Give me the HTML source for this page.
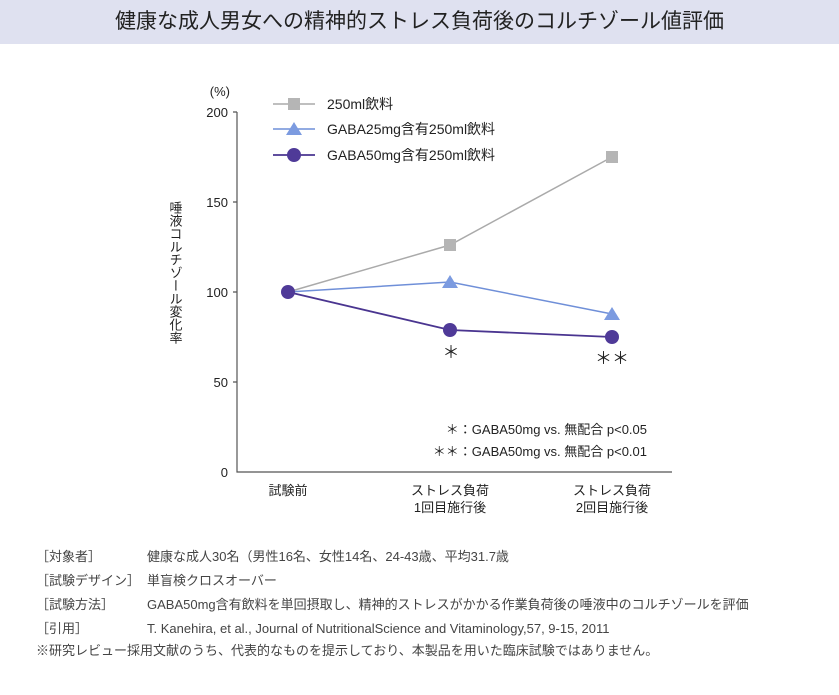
<!DOCTYPE html>
<html><head><meta charset="utf-8"><style>
body{margin:0;width:839px;height:695px;background:#fff;font-family:"Liberation Sans","Noto Sans CJK JP",sans-serif;overflow:hidden;position:relative}
.title{position:absolute;left:0;top:0;width:839px;height:44px;background:#dfe1f0;text-align:center;line-height:44px;font-size:21px;color:#222}
.f{position:absolute;font-size:13px;color:#444;white-space:nowrap;line-height:18px}
</style></head><body>
<div class="title">健康な成人男女への精神的ストレス負荷後のコルチゾール値評価</div>
<svg width="839" height="695" style="position:absolute;left:0;top:0" font-family="Liberation Sans, Noto Sans CJK JP, sans-serif">
<g stroke="#555" stroke-width="1.2" fill="none">
<path d="M237 112 V472 H672"/>
<path d="M233 112H237M233 202H237M233 292H237M233 382H237"/>
</g>
<g font-size="13" fill="#222" text-anchor="end">
<text x="228" y="117">200</text><text x="228" y="207">150</text><text x="228" y="297">100</text><text x="228" y="387">50</text><text x="228" y="477">0</text>
<text x="230" y="96">(%)</text>
</g>
<text font-size="13" fill="#222" style="writing-mode:vertical-rl" x="175" y="201">唾液コルチゾール変化率</text>
<g font-size="13" fill="#222" text-anchor="middle">
<text x="288" y="495">試験前</text>
<text x="450" y="495">ストレス負荷</text><text x="450" y="512">1回目施行後</text>
<text x="612" y="495">ストレス負荷</text><text x="612" y="512">2回目施行後</text>
</g>
<polyline points="288,292 450,245 612,157" fill="none" stroke="#aaa" stroke-width="1.5"/>
<polyline points="288,292 450,282 612,314" fill="none" stroke="#6f8fd8" stroke-width="1.5"/>
<polyline points="288,292 450,330 612,337" fill="none" stroke="#4a3590" stroke-width="1.8"/>
<g fill="#b5b5b5"><rect x="444" y="239" width="12" height="12"/><rect x="606" y="151" width="12" height="12"/></g>
<g fill="#7c9be0"><path d="M450 275 L458 288 L442 288Z"/><path d="M612 307 L620 320 L604 320Z"/></g>
<g fill="#4f3a98"><circle cx="288" cy="292" r="7"/><circle cx="450" cy="330" r="7"/><circle cx="612" cy="337" r="7"/></g>
<text x="451" y="358" font-size="17" text-anchor="middle" fill="#222">＊</text>
<text x="612" y="364" font-size="17" text-anchor="middle" fill="#222">＊＊</text>
<line x1="273" y1="104" x2="315" y2="104" stroke="#aaa" stroke-width="1.5"/><rect x="288" y="98" width="12" height="12" fill="#b5b5b5"/>
<line x1="273" y1="129" x2="315" y2="129" stroke="#6f8fd8" stroke-width="1.5"/><path d="M294 122 L302 135 L286 135Z" fill="#7c9be0"/>
<line x1="273" y1="155" x2="315" y2="155" stroke="#4a3590" stroke-width="1.8"/><circle cx="294" cy="155" r="7" fill="#4f3a98"/>
<g font-size="14" fill="#222"><text x="327" y="109">250ml飲料</text><text x="327" y="134">GABA25mg含有250ml飲料</text><text x="327" y="160">GABA50mg含有250ml飲料</text></g>
<g font-size="13" fill="#222" text-anchor="end"><text x="647" y="434">＊：GABA50mg vs. 無配合 p&lt;0.05</text><text x="647" y="456">＊＊：GABA50mg vs. 無配合 p&lt;0.01</text></g>
</svg>
<div class="f" style="left:36px;top:548px">［対象者］</div><div class="f" style="left:147px;top:548px">健康な成人30名（男性16名、女性14名、24-43歳、平均31.7歳</div>
<div class="f" style="left:36px;top:572px">［試験デザイン］</div><div class="f" style="left:147px;top:572px">単盲検クロスオーバー</div>
<div class="f" style="left:36px;top:596px">［試験方法］</div><div class="f" style="left:147px;top:596px">GABA50mg含有飲料を単回摂取し、精神的ストレスがかかる作業負荷後の唾液中のコルチゾールを評価</div>
<div class="f" style="left:36px;top:620px">［引用］</div><div class="f" style="left:147px;top:620px">T. Kanehira, et al., Journal of NutritionalScience and Vitaminology,57, 9-15, 2011</div>
<div class="f" style="left:36px;top:642px">※研究レビュー採用文献のうち、代表的なものを提示しており、本製品を用いた臨床試験ではありません。</div>
</body></html>
